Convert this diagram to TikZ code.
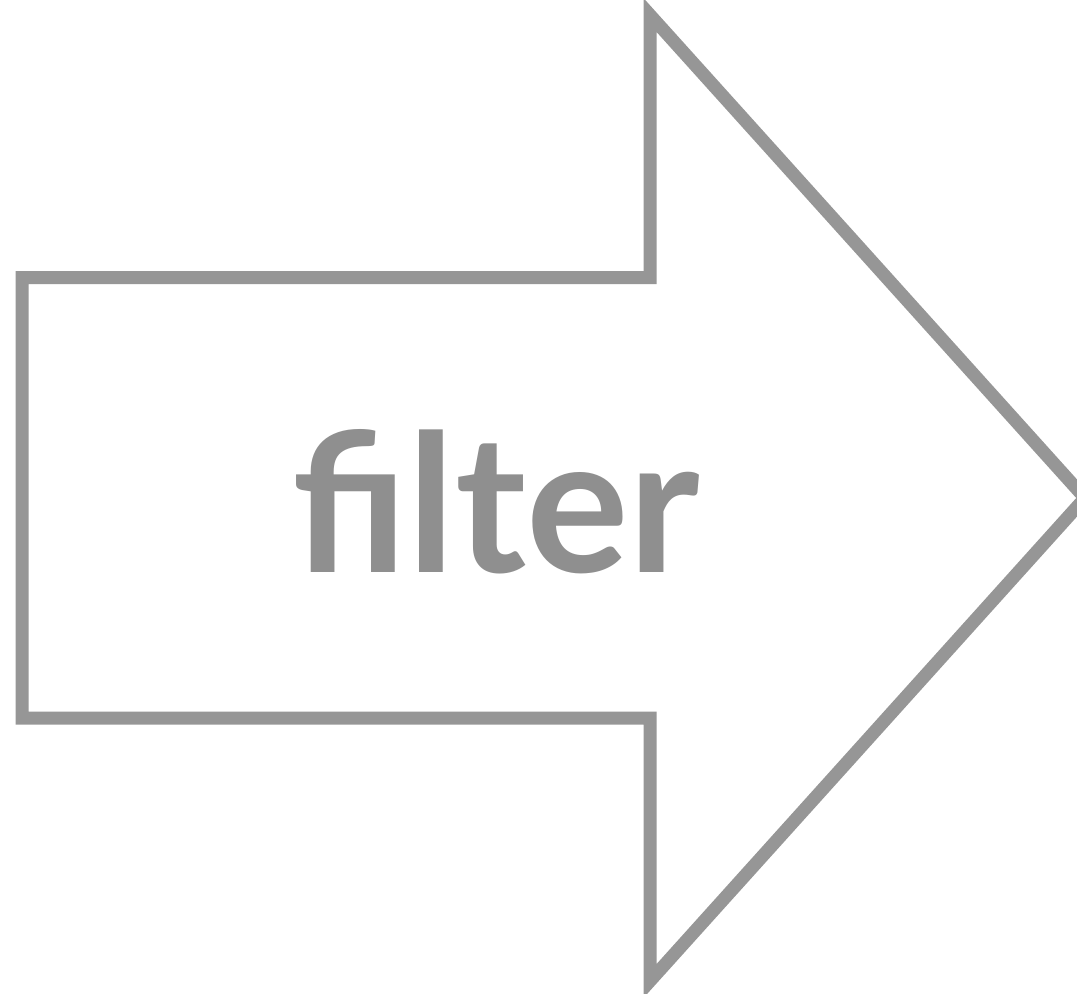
\documentclass[tikz,border=0pt]{standalone}
\usepackage{fontspec}
\setmainfont{Lato}
\usetikzlibrary{positioning}
\usepackage{xcolor}
\definecolor{FilterGray}{RGB}{150,150,150}
\definecolor{FilterText}{RGB}{143,143,143}

\begin{document}
\begin{tikzpicture}[
x=0.5pt,y=-0.5pt,
outline/.style={
draw=FilterGray,fill=white,line width=6.5pt,miter limit=10
},
word/.style={
text=FilterText,inner sep=0pt,anchor=base,
font=\fontsize{96}{96}\selectfont\bfseries
}
]

\useasboundingbox (0,0) rectangle (1077,993);
\clip (0,0) rectangle (1077,993);

\coordinate (tl) at (22,277.5);
\coordinate (nt) at (650,277.5);
\coordinate (top) at (650,15);
\coordinate (tip) at (1085,498);
\coordinate (bot) at (650,981);
\coordinate (nb) at (650,718);
\coordinate (bl) at (22,718);

\draw[outline] (tl)--(nt)--(top)--(tip)--(bot)--(nb)--(bl)--cycle;

\node[word] (filter) at (496,572) {filter};

\end{tikzpicture}
\end{document}
